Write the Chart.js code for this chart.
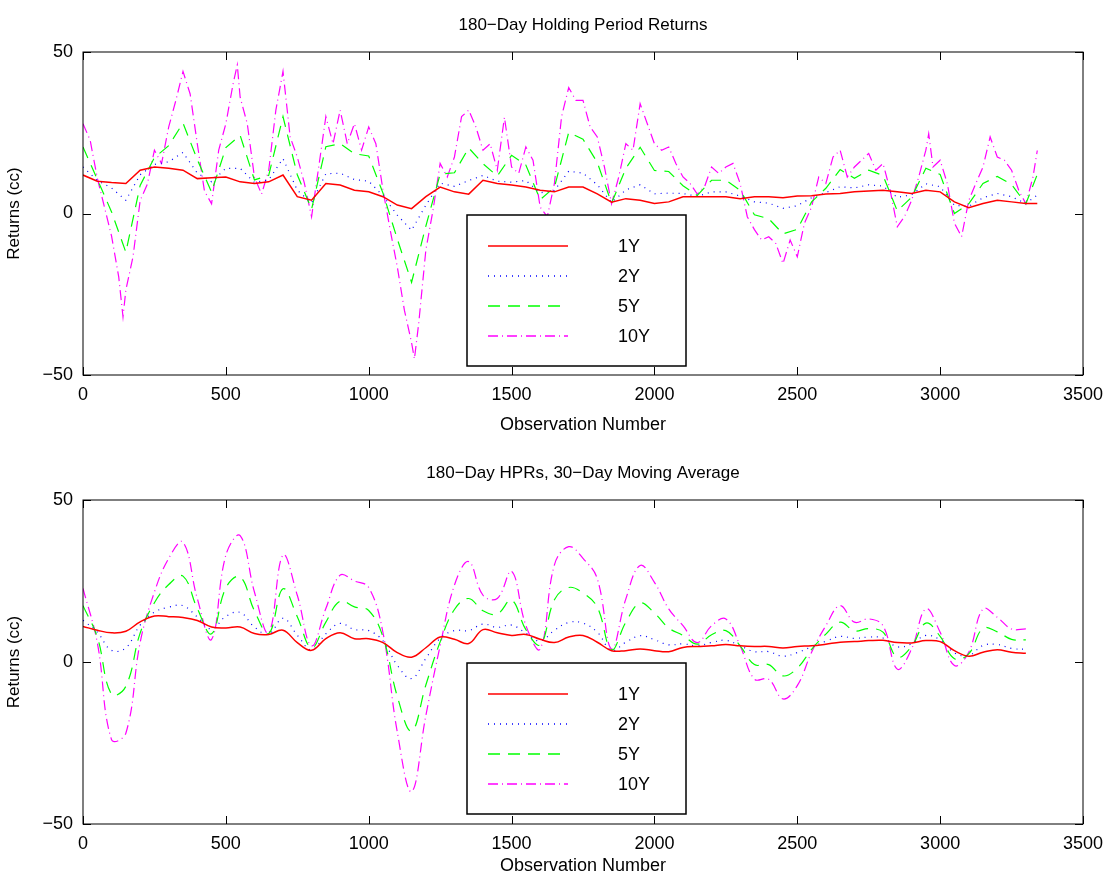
<!DOCTYPE html>
<html>
<head>
<meta charset="utf-8">
<script src="https://cdn.jsdelivr.net/npm/chart.js@4"></script>
<style>
  body { margin: 0; background: #fff; width: 1116px; height: 881px; overflow: hidden; }
  .box { position: absolute; left: 0; width: 1116px; }
</style>
</head>
<body>
<div class="box" style="top:0;height:440px"><canvas id="top"></canvas></div>
<div class="box" style="top:448px;height:433px"><canvas id="bottom"></canvas></div>
<script>
// Observation numbers (x values)
const topObs = [0,50,100,150,200,250,300,350,400,450,500,550,600,650,700,750,800,850,900,950,
  1000,1050,1100,1150,1200,1250,1300,1350,1400,1450,1500,1550,1600,1650,1700,1750,1800,1850,1900,1950,
  2000,2050,2100,2150,2200,2250,2300,2350,2400,2450,2500,2550,2600,2650,2700,2750,2800,2850,2900,2950,
  3000,3050,3100,3150,3200,3250,3300,3340];
const bottomObs = topObs.slice(0, 67);

// 180-day holding period returns (top panel)
const top1Y = [11.9,10,9.6,9.3,13.4,14.4,14,13.4,10.8,11.1, 11.3,9.8,9.3,9.8,11.9,5.2,4.1,9.3,8.8,7.2,
  6.7,5.2,2.6,1.5,5.2,8.2,6.7,6,10.3,9.3, 8.8,8.2,7.2,6.7,8.2,8.2,6.1,3.5,4.6,4.1,
  3.1,3.6,5.2,5.2,5.2,5.2,4.6,5.2,5.2,4.9, 5.4,5.5,6,6.2,6.7,7,7.2,6.7,6.2,7.2, 6.7,3.6,1.8,3.1,4.1,3.6,3.1,3.1];
const top2Y = [14.4,10.2,7.9,4.1,12,15.2,16,18.9,12.5,9.8, 14,14,9.6,10.4,17,7.2,3.3,12.3,12.5,10.5,
  10,5.5,-0.5,-5.2,2.6,9.4,8.4,10.2,11.8,10, 9.7,10.2,6.4,7.1,13.1,12.5,8.9,3.4,7.3,8.9,
  6.1,6.3,6.2,5.3,6.7,6.7,5.4,3.6,3.2,1.6, 2.4,4.9,6.5,8.3,7.9,8.9,8.5,5,5.8,9.2, 8.3,2.5,2.2,4.9,6.2,5.2,3.1,5.7];
const top5Y = [20.6,10.6,0.5,-12,8.7,17.3,21,28,16.7,6.6, 20.4,24.2,10.4,11.8,30,12,1.3,20.7,21.6,18.5,
  17.8,6.3,-7.9,-21.3,-3.9,12.2,12.6,20.3,15.4,11.6, 18,15,4.3,8.1,25.1,23,15.8,3.2,14,20.5,
  13.3,13,8.6,5.6,10.3,10.3,7.2,-0.4,-1.6,-6.3, -4.9,3.6,7.8,13.6,10.9,13.4,11.8,0.8,5,14, 12.1,0,3,9.3,11.5,9,3,12.1];
const top10Obs = [0,25,50,75,100,125,140,150,175,200,225,250,275,300,325,350,375,400,425,450,475,500,525,540,550,575,
  600,625,650,675,700,725,750,775,800,825,850,875,900,925,950,975,1000,1025,1050,1075,1100,1125,1150,1160,1175,
  1200,1225,1250,1275,1300,1325,1350,1375,1400,1425,1450,1475,1500,1525,1550,1575,1600,1625,1650,1675,1700,1725,
  1750,1775,1800,1825,1850,1875,1900,1925,1950,1975,2000,2025,2050,2075,2100,2125,2150,2175,2200,2225,2250,2275,
  2300,2325,2350,2375,2400,2425,2450,2475,2500,2525,2550,2575,2600,2625,2650,2675,2700,2725,2750,2775,2800,2825,
  2850,2875,2900,2925,2950,2960,2975,3000,3025,3050,3075,3100,3125,3150,3175,3200,3225,3250,3275,3300,3325,3340];
const top10Y = [27.8,22.7,11,2,-7,-19.6,-32,-23.7,-13.4,4,9,19.6,15.5,26.8,35,44,37,21.6,7,3,19.6,27.8,40,46,36,27.8,
  11.3,6,13.4,32,44,23.7,17.5,9.3,-1,14.4,30,21.6,32,21.6,27.8,19.6,26.8,21.6,7.2,-5,-16.5,-30,-40,-45,-34,
  -11.3,1,15.5,11.3,17.5,30,32,26.8,19.6,21.6,13.4,29.8,14.4,12.4,20.6,16.5,2,-1,9.3,30,39,35,
  35,26.8,23.7,14.4,3,11.3,21.6,19.6,34,27.8,21.6,19.6,20.6,15.5,11.3,9.3,6,8.2,14.4,12.4,14.4,15.5,
  9.3,-1,-5,-8.2,-7.2,-9.3,-15.5,-8.2,-13.4,-3,2,11.3,9.3,17.5,19.6,11.3,14.4,16.5,18.6,13.4,15.5,7.2,
  -4.1,-1,4,11.3,19.6,24.7,14.4,16.5,9.3,-3,-7.2,4,9.3,14.4,23.7,17.5,16.5,13.4,7.2,3,11.3,19.5];

// 30-day moving average (bottom panel)
const ma1Y = [11,9.8,9,9.5,12.4,14.2,14,13.7,12.8,10.8, 10.5,10.8,8.8,8.5,9.8,6,3.6,7.2,9,7.2,
  7.2,6,2.9,1.5,4.4,7.7,7,5.7,10,9, 8.2,8.5,7,6,7.7,8.2,6.1,3.5,3.5,4,
  3.5,3.2,4.5,4.8,5,5.4,5,4.8,4.8,4.3, 4.8,5,5.5,6.1,6.3,6.6,6.7,6,5.9,6.6, 6.3,3.5,1.8,3,3.8,3,2.7];
const ma2Y = [12.9,9.2,3.6,4.4,11.4,15.4,16.9,17.4,13.9,10.2, 14.1,15.3,10.8,8.6,13.5,8.3,3.8,8.7,11.9,10,
  9.7,6.5,-1,-5.1,1.1,7.3,9.7,9.7,11.7,10.7, 11.4,8.9,6.5,9.8,12.2,12,9.2,3.6,6.1,8.1,
  6.9,5.3,5.6,5,6,6.7,5,3.2,3.2,1.8, 2.9,4.7,6.4,7.9,7.3,7.7,7.4,4.7,5.6,8.2, 6.8,2.8,2,5.1,5.4,4.2,3.9];
const ma5Y = [17.4,7.7,-10,-7.5,8.9,18.3,23.9,26.5,16.5,8.7, 22.9,26.3,15.8,8.8,22.6,14,4.4,12.3,18.8,17,
  15.9,7.7,-10.6,-21.3,-7.1,6.2,16.2,19.6,15.8,14.8, 19.1,10,5.3,19.2,23,21.3,16.9,3.8,12.3,18.2,
  15.1,10.5,8.2,5.5,8.4,9.7,5,-0.8,-0.8,-4.3, -1.9,3.9,8.6,12.3,9.6,10.3,9.2,1.5,4.8,12, 7.9,1,2.5,10.4,9.3,7,6.8];
const ma10Y = [22.7,6,-24,-22,6,21.6,32,37,19.6,7, 33,39,21.6,9,33,20.6,5,16.5,26.8,25,
  23,9,-21.6,-40,-16.5,5,23.7,31,20.6,19.6, 28,11.3,4,30,35.6,32,25.7,4,19.5,29.8,
  24.6,16.4,11.2,6,11.2,13.3,5,-5.3,-5.3,-11.4, -7.3,3,11.2,17.4,12.3,13.3,11.2,-2.2,4,16.4, 9.2,-1.1,3,16.4,13.8,10.2,10.2];

const seriesNames = ['1Y', '2Y', '5Y', '10Y'];
const seriesColors = ['#ff0000', '#0000ff', '#00ff00', '#ff00ff'];
const seriesDash = [[], [1, 5], [12, 8], [10, 4, 1, 4]];
const FONT = 'Arial, "Liberation Sans", Helvetica, sans-serif';

function pts(xs, ys) {
  return ys.map((y, i) => ({ x: xs[i], y: y }));
}

// box, inward ticks, title and legend drawn like a MATLAB axes
const matlabAxes = {
  id: 'matlabAxes',
  afterDraw(chart, args, opts) {
    const c = chart.ctx, a = chart.chartArea;
    c.save();
    c.strokeStyle = '#000';
    c.lineWidth = 1;
    c.strokeRect(a.left, a.top, a.right - a.left, a.bottom - a.top);
    chart.scales.x.ticks.forEach(t => {
      const px = Math.round(chart.scales.x.getPixelForValue(t.value)) + 0.5;
      c.beginPath();
      c.moveTo(px, a.bottom); c.lineTo(px, a.bottom - 8);
      c.moveTo(px, a.top); c.lineTo(px, a.top + 8);
      c.stroke();
    });
    chart.scales.y.ticks.forEach(t => {
      const py = Math.round(chart.scales.y.getPixelForValue(t.value)) + 0.5;
      c.beginPath();
      c.moveTo(a.left, py); c.lineTo(a.left + 8, py);
      c.moveTo(a.right, py); c.lineTo(a.right - 8, py);
      c.stroke();
    });
    // title
    c.fillStyle = '#000';
    c.font = '17px ' + FONT;
    c.textAlign = 'center';
    c.textBaseline = 'middle';
    c.fillText(opts.title, (a.left + a.right) / 2, a.top - 27);
    // legend box
    const lx = a.left + 384, ly = a.top + 163;
    c.fillStyle = '#fff';
    c.fillRect(lx, ly, 219, 151);
    c.lineWidth = 1.5;
    c.strokeRect(lx, ly, 219, 151);
    seriesNames.forEach((n, i) => {
      const y = ly + 31 + i * 30;
      c.beginPath();
      c.strokeStyle = seriesColors[i];
      c.lineWidth = i === 0 ? 1.5 : 1.3;
      c.setLineDash(seriesDash[i]);
      c.moveTo(lx + 21, y); c.lineTo(lx + 101, y);
      c.stroke();
      c.setLineDash([]);
      c.fillStyle = '#000';
      c.font = '18px ' + FONT;
      c.textAlign = 'left';
      c.fillText(n, lx + 151, y + 1);
    });
    c.restore();
  }
};

function makeChart(id, title, data, tension, axisHeight) {
  const datasets = data.map((d, i) => ({
    label: seriesNames[i],
    data: d,
    borderColor: seriesColors[i],
    borderDash: seriesDash[i],
    borderWidth: i === 0 ? 1.5 : 1.2,
    pointRadius: 0,
    tension: tension,
    fill: false
  }));
  return new Chart(document.getElementById(id), {
    type: 'line',
    data: { datasets: datasets },
    plugins: [matlabAxes],
    options: {
      responsive: true,
      maintainAspectRatio: false,
      animation: false,
      layout: { padding: { left: 0, top: 52, right: 33, bottom: 0 } },
      plugins: {
        legend: { display: false },
        tooltip: { enabled: false },
        matlabAxes: { title: title }
      },
      scales: {
        x: {
          type: 'linear', min: 0, max: 3500,
          grid: { display: false, drawTicks: false },
          border: { display: false },
          ticks: { stepSize: 500, color: '#000', font: { size: 18, family: FONT }, padding: 9, maxRotation: 0,
                   callback: v => String(v) },
          title: { display: true, text: 'Observation Number', color: '#000', font: { size: 18, family: FONT }, padding: { top: 0 } },
          afterFit: s => { s.height = axisHeight; }
        },
        y: {
          min: -50, max: 50,
          grid: { display: false, drawTicks: false },
          border: { display: false },
          ticks: { stepSize: 50, color: '#000', font: { size: 18, family: FONT }, padding: 10,
                   callback: v => String(v).replace('-', '\u2212') },
          title: { display: true, text: 'Returns (cc)', color: '#000', font: { size: 17, family: FONT }, padding: { bottom: 0 } },
          afterFit: s => { s.width = 83; }
        }
      }
    }
  });
}

makeChart('top', '180\u2212Day Holding Period Returns', [
  pts(topObs, top1Y), pts(topObs, top2Y), pts(topObs, top5Y), pts(top10Obs, top10Y)
], 0, 65);

makeChart('bottom', '180\u2212Day HPRs, 30\u2212Day Moving Average', [
  pts(bottomObs, ma1Y), pts(bottomObs, ma2Y), pts(bottomObs, ma5Y), pts(bottomObs, ma10Y)
], 0.4, 57);
</script>
</body>
</html>
